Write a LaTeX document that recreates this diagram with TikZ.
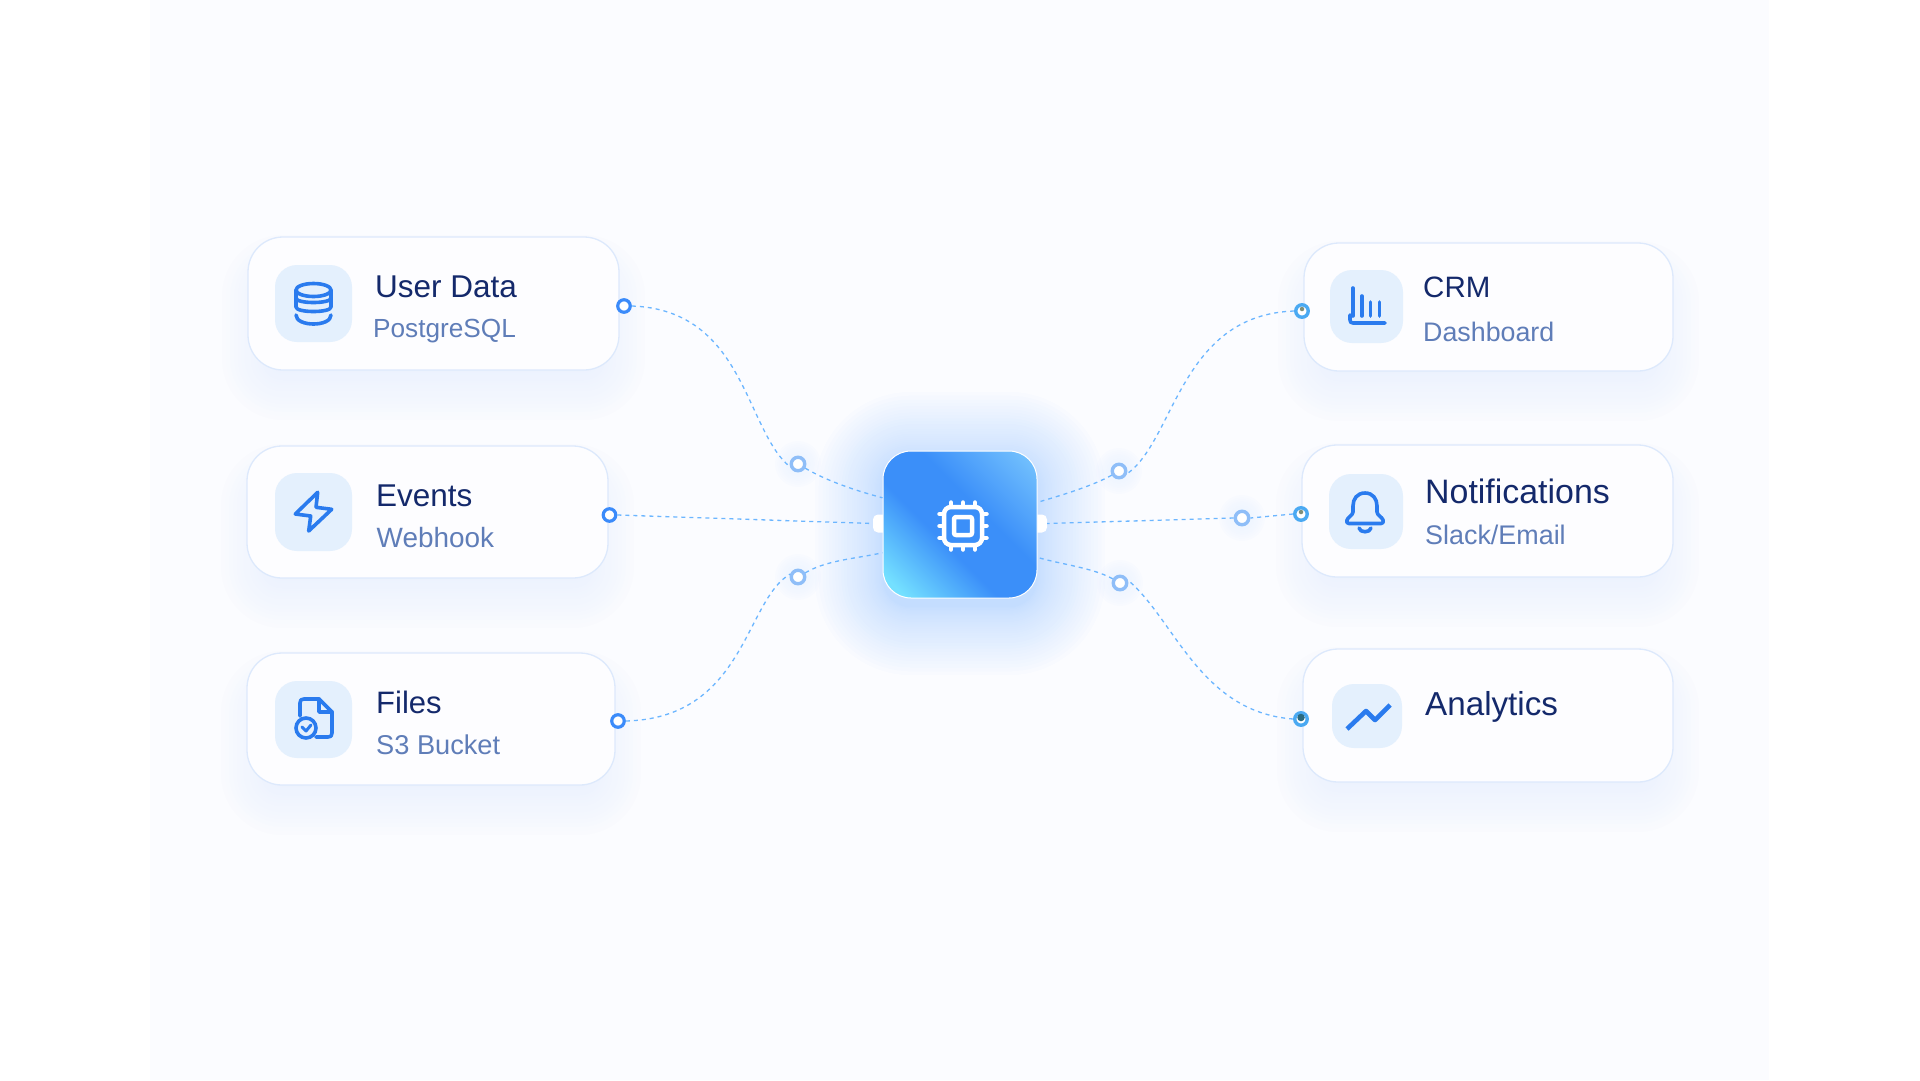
\documentclass[tikz,border=0pt]{standalone}
\usepackage{fontspec}
\setmainfont{Liberation Sans}
\definecolor{panelbg}{HTML}{FBFCFF}
\definecolor{cardfill}{HTML}{FDFDFF}
\definecolor{cardline}{HTML}{DDE9FC}
\definecolor{shadowc}{HTML}{6F9FF5}
\definecolor{glowc}{HTML}{4E9BFF}
\definecolor{titlec}{HTML}{14296B}
\definecolor{subc}{HTML}{5F7DB8}
\definecolor{iconc}{HTML}{2A7BEE}
\definecolor{iconbg}{HTML}{E4F0FD}
\definecolor{linkc}{HTML}{6CB6FF}
\definecolor{ringc}{HTML}{3B8BFA}
\definecolor{wayc}{HTML}{8FBEF8}
\definecolor{ringr}{HTML}{4AA9F2}
\definecolor{dotc}{HTML}{7F8F7A}
\definecolor{dotd}{HTML}{2A6A80}
\definecolor{huba}{HTML}{74E0FF}
\definecolor{hubb}{HTML}{3B8FF9}
\definecolor{hubc}{HTML}{72C0FD}
\pgfdeclarehorizontalshading{hubshade}{100bp}{color(0bp)=(huba); color(20bp)=(huba); color(42bp)=(hubb); color(58bp)=(hubb); color(82bp)=(hubc); color(100bp)=(hubc)}
\tikzset{
  cardstyle/.style={draw=cardline,line width=1.3pt,fill=cardfill,rounded corners=35pt,inner sep=0pt},
  iconbox/.style={fill=iconbg,rounded corners=22pt,inner sep=0pt},
  iconline/.style={draw=iconc,line width=3.6pt,line cap=round,line join=round},
  title/.style={anchor=base west,inner sep=0pt,text=titlec},
  subtitle/.style={anchor=base west,inner sep=0pt,text=subc},
  portl/.style={circle,draw=ringc,line width=3.2pt,fill=white,minimum size=12.5pt,inner sep=0pt},
  portr/.style={circle,draw=ringr,line width=3.4pt,fill=white,minimum size=12.5pt,inner sep=0pt},
  waypt/.style={circle,draw=wayc,line width=3.4pt,fill=white,minimum size=13.5pt,inner sep=0pt},
  link/.style={draw=linkc,line width=1.3pt,dash pattern=on 4pt off 4pt},
  tabstyle/.style={fill=white,rounded corners=5pt,inner sep=0pt,minimum width=18pt,minimum height=18pt},
  hubstyle/.style={draw=white,line width=1pt,rounded corners=28pt,inner sep=0pt,minimum width=154pt,minimum height=147pt,shading=hubshade,shading angle=45},
  chipline/.style={draw=white,line width=4.5pt,line cap=round,line join=round}
}
\newcommand{\cardat}[5]{%
  \begin{scope}[transparency group,opacity=.12]
  \foreach \i in {1,...,20}{
    \pgfmathsetmacro\e{50*pow(\i/20,1.7)-24}
    \pgfmathsetmacro\rr{35+\e}
    \fill[shadowc,opacity=.09,rounded corners=\rr pt] ({#2-\e},{#3+24-\e}) rectangle ({#4+\e},{#5+24+\e});
  }
  \end{scope}
  \pgfmathsetmacro\cx{(#2+#4)/2}\pgfmathsetmacro\cy{(#3+#5)/2}
  \pgfmathsetmacro\w{#4-#2}\pgfmathsetmacro\h{#5-#3}
  \node[cardstyle,minimum width=\w pt,minimum height=\h pt] (#1) at (\cx,\cy) {};
}
\newcommand{\iconat}[5]{%
  \pgfmathsetmacro\cx{(#2+#4)/2}\pgfmathsetmacro\cy{(#3+#5)/2}
  \pgfmathsetmacro\w{#4-#2}\pgfmathsetmacro\h{#5-#3}
  \node[iconbox,minimum width=\w pt,minimum height=\h pt] (#1) at (\cx,\cy) {};
}
\newcommand{\wayglow}[2]{%
  \begin{scope}[transparency group,opacity=.1]
  \foreach \i in {1,...,7}{\fill[glowc,opacity=.12] (#1,#2) circle [radius=9+\i*2];}
  \end{scope}
}
\newcommand{\fs}[1]{\fontsize{#1}{#1}\selectfont}
\begin{document}
\begin{tikzpicture}[x=1pt,y=-1pt]
\useasboundingbox (0,0) rectangle (1920,1080);
\fill[white] (0,0) rectangle (1920,1080);
\fill[panelbg] (150,0) rectangle (1769,1080);

% cards
\cardat{c1}{248}{237}{619}{370}
\cardat{c2}{247}{446}{608}{578}
\cardat{c3}{247}{653}{615}{785}
\cardat{c4}{1304}{243}{1673}{371}
\cardat{c5}{1302}{445}{1673}{577}
\cardat{c6}{1303}{649}{1673}{782}

% icon backgrounds
\iconat{i1}{275}{265}{352}{342}
\iconat{i2}{275}{473}{352}{551}
\iconat{i3}{275}{681}{352}{758}
\iconat{i4}{1330}{270}{1403}{343}
\iconat{i5}{1329}{474}{1403}{549}
\iconat{i6}{1332}{684}{1402}{748}

% texts
\node[title,font=\fs{31.5}] (t1) at (375,297) {User Data};
\node[subtitle,font=\fs{26.2}] (s1) at (373,337.5) {PostgreSQL};
\node[title,font=\fs{31.5}] (t2) at (376,506) {Events};
\node[subtitle,font=\fs{27.9}] (s2) at (376.5,547) {Webhook};
\node[title,font=\fs{31}] (t3) at (376,713) {Files};
\node[subtitle,font=\fs{27.2}] (s3) at (376,754) {S3 Bucket};
\node[title,font=\fs{29.5}] (t4) at (1423,297) {CRM};
\node[subtitle,font=\fs{26.8}] (s4) at (1423,341) {Dashboard};
\node[title,font=\fs{33.9}] (t5) at (1425,503) {Notifications};
\node[subtitle,font=\fs{26.9}] (s5) at (1425,544.5) {Slack/Email};
\node[title,font=\fs{33.2}] (t6) at (1425,715) {Analytics};

% icons
\draw[iconline] (313.5,290) ellipse [x radius=17.5,y radius=6.5];
\draw[iconline] (296,290) -- (296,307) .. controls (296,313) and (331,313) .. (331,307) -- (331,290);
\draw[iconline] (296,298) .. controls (296,304) and (331,304) .. (331,298);
\draw[iconline] (296,315) .. controls (296,327) and (331,327) .. (331,315);

\draw[iconline] (317.7,492.3) -- (295.3,514) -- (310.7,516) -- (308.7,531) -- (331.7,509.3) -- (316,507.3) -- cycle;

\draw[iconline] (300,716) -- (300,703) .. controls (300,700) and (301,699) .. (304,699) -- (319,699) -- (332,712) -- (332,733) .. controls (332,736) and (331,737) .. (328,737) -- (316,737);
\draw[iconline] (319,699) -- (319,712) -- (332,712);
\draw[iconline] (306,728) circle [radius=10];
\draw[iconline,line width=3pt] (302,727) -- (306,731) -- (311,725);

\draw[iconline] (1352.7,288) -- (1352.7,316);
\draw[iconline] (1361.7,296) -- (1361.7,316);
\draw[iconline] (1370.3,302) -- (1370.3,316);
\draw[iconline] (1379.3,302) -- (1379.3,316);
\draw[iconline] (1350,315) -- (1350,320) .. controls (1350,322) and (1351,323) .. (1353,323) -- (1385,323);

\draw[iconline] (1365,493) .. controls (1357,493) and (1353,499) .. (1353,506) -- (1353,512) .. controls (1353,515) and (1348,517) .. (1347,520) .. controls (1346,522) and (1347,523.5) .. (1349,523.5) -- (1381,523.5) .. controls (1383,523.5) and (1384,522) .. (1383,520) .. controls (1382,517) and (1377,515) .. (1377,512) -- (1377,506) .. controls (1377,499) and (1373,493) .. (1365,493) -- cycle;
\draw[iconline] (1359,528) .. controls (1360,533) and (1370,533) .. (1371,528);

\draw[iconline,line width=4.6pt,line cap=butt] (1347,729) -- (1366,711) -- (1375,720) -- (1390,705);

% hub glow: layers crowd towards the hub so that it fades out softly
\begin{scope}[transparency group,opacity=.4]
\foreach \i in {1,...,40}{
  \pgfmathsetmacro\e{68*pow(\i/40,2.2)}
  \pgfmathsetmacro\rr{28+\e}
  \fill[glowc,opacity=.04,rounded corners=\rr pt] ({883-\e},{451+9-\e}) rectangle ({1037+\e},{598+9+\e});
}
\end{scope}
% waypoint glows
\wayglow{798}{464}\wayglow{798}{577}\wayglow{1119}{471}\wayglow{1242}{518}\wayglow{1120}{583}

% hub
\node[tabstyle] (tabL) at (882,523.5) {};
\node[tabstyle] (tabR) at (1038,523.5) {};
\node[hubstyle] (hub) at (960,524.5) {};

% chip icon
\node[chipline,rounded corners=7pt,minimum size=38pt,inner sep=0pt] (chip) at (963,526) {};
\node[chipline,rounded corners=2pt,minimum size=18pt,inner sep=0pt] (chipcore) at (963,526) {};
\foreach \d in {-12,0,12}{
  \draw[chipline] ({963+\d},502.5) -- ({963+\d},506);
  \draw[chipline] ({963+\d},546) -- ({963+\d},549.5);
  \draw[chipline] (939.5,{526+\d}) -- (943,{526+\d});
  \draw[chipline] (983,{526+\d}) -- (986.5,{526+\d});
}

% ports and waypoints
\node[portl] (p1) at (624,306) {};
\node[portl] (p2) at (609.5,515) {};
\node[portl] (p3) at (618,721) {};
\node[portr] (p4) at (1302,311) {};
\node[portr] (p5) at (1301,514) {};
\node[portr] (p6) at (1301,719) {};
\node[circle,fill=dotc,minimum size=4.5pt,inner sep=0pt] (d4) at (1302,309) {};
\node[circle,fill=dotc,minimum size=4.5pt,inner sep=0pt] (d5) at (1301,512) {};
\node[circle,fill=dotd,minimum size=7.5pt,inner sep=0pt] (d6) at (1301,717.5) {};
\node[waypt] (w1) at (798,464) {};
\node[waypt] (w3) at (798,577) {};
\node[waypt] (w4) at (1119,471) {};
\node[waypt] (w5) at (1242,518) {};
\node[waypt] (w6) at (1120,583) {};

% connectors
\draw[link] (p1.east) .. controls (745,310) and (745,430) .. (w1.200);
\draw[link] (w1.-30) .. controls +(22,13) and +(-26,-7) .. (hub.161);
\draw[link] (p2.east) -- (tabL.west);
\draw[link] (p3.east) .. controls (745,718) and (745,600) .. (w3.160);
\draw[link] (w3.30) .. controls +(22,-13) and +(-26,6) .. (hub.200);
\draw[link] (p4.west) .. controls (1180,315) and (1175,440) .. (w4.-20);
\draw[link] (w4.210) .. controls +(-20,11) and +(24,-7) .. (hub.16);
\draw[link] (p5.west) -- (w5.east);
\draw[link] (w5.west) -- (tabR.east);
\draw[link] (p6.west) .. controls (1200,712) and (1175,620) .. (w6.20);
\draw[link] (w6.150) .. controls +(-20,-11) and +(24,7) .. (hub.-23);
\end{tikzpicture}
\end{document}
